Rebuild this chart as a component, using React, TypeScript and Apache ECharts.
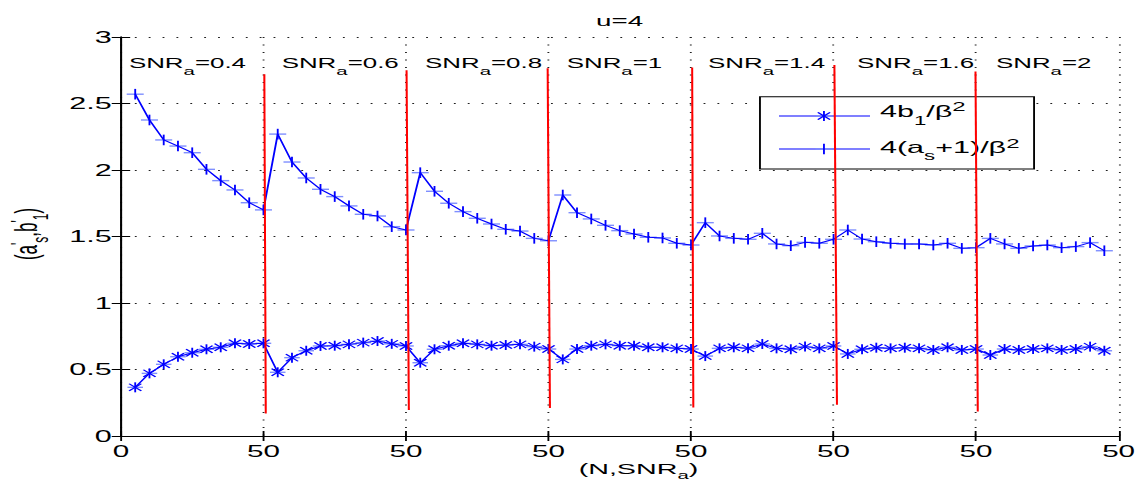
import React, { useEffect, useRef } from 'react';
import * as echarts from 'echarts';

// ---------- data ----------
const snrLabels = ['0.4', '0.6', '0.8', '1', '1.4', '1.6', '2'];
const nValues = [5, 10, 15, 20, 25, 30, 35, 40, 45, 50];
const blockWidth = 50;
const xTickLabels = ['0', '50', '50', '50', '50', '50', '50', '50'];

// 4(a_s+1)/beta^2  (plus markers)
const asPlusOne = [
  [2.57, 2.376, 2.226, 2.18, 2.13, 2.005, 1.92, 1.85, 1.754, 1.7],
  [2.27, 2.06, 1.94, 1.855, 1.8, 1.73, 1.667, 1.654, 1.574, 1.549],
  [1.98, 1.84, 1.75, 1.687, 1.637, 1.594, 1.554, 1.541, 1.486, 1.468],
  [1.812, 1.679, 1.632, 1.584, 1.544, 1.519, 1.494, 1.489, 1.449, 1.436],
  [1.604, 1.504, 1.486, 1.479, 1.524, 1.444, 1.431, 1.456, 1.449, 1.479],
  [1.549, 1.481, 1.461, 1.449, 1.444, 1.444, 1.436, 1.449, 1.411, 1.416],
  [1.486, 1.444, 1.411, 1.429, 1.436, 1.416, 1.424, 1.454, 1.393],
];

// 4 b_1/beta^2  (asterisk markers)
const bOne = [
  [0.366, 0.471, 0.539, 0.596, 0.626, 0.652, 0.667, 0.697, 0.692, 0.697],
  [0.479, 0.589, 0.641, 0.677, 0.679, 0.689, 0.702, 0.714, 0.693, 0.677],
  [0.551, 0.652, 0.679, 0.697, 0.689, 0.679, 0.684, 0.689, 0.672, 0.654],
  [0.576, 0.654, 0.679, 0.689, 0.679, 0.679, 0.667, 0.667, 0.659, 0.654],
  [0.601, 0.659, 0.667, 0.659, 0.692, 0.659, 0.652, 0.672, 0.659, 0.677],
  [0.617, 0.652, 0.664, 0.659, 0.664, 0.659, 0.647, 0.667, 0.647, 0.654],
  [0.609, 0.654, 0.647, 0.654, 0.659, 0.647, 0.654, 0.672, 0.641],
];

// red separators
const redTopX = [50.3, 100.2, 149.7, 200.4, 250.3, 299.8];
const redBottomX = [50.8, 101.0, 150.5, 200.8, 251.2, 300.6];
const redTop = [2.72, 2.75, 2.765, 2.77, 2.79, 2.74];
const redBottom = [0.17, 0.195, 0.21, 0.215, 0.235, 0.185];

// ---------- helpers ----------
const FONT = '"Liberation Sans", Arial, Helvetica, sans-serif';
const STRETCH = 1143 / 618;
const LIGHT = '#7f8fff';
const BLUE = '#0000ff';

const toPoints = (blocks: number[][]) =>
  blocks.flatMap((vals, bi) => vals.map((v, i) => [bi * blockWidth + nValues[i], v]));

function markerLines(kind: string, cx: number, cy: number, z?: number) {
  const L = (x1: number, y1: number, x2: number, y2: number, stroke: string, w: number) => {
    const o: any = { type: 'line', shape: { x1, y1, x2, y2 }, style: { stroke, lineWidth: w } };
    if (z !== undefined) o.z = z;
    return o;
  };
  if (kind === 'plus') {
    return [L(cx - 4.6, cy, cx + 4.6, cy, LIGHT, 1.4), L(cx, cy - 5.3, cx, cy + 5.3, BLUE, 1)];
  }
  return [
    L(cx - 4.2, cy, cx + 4.2, cy, LIGHT, 1.4),
    L(cx, cy - 5, cx, cy + 5, BLUE, 1),
    L(cx - 3.3, cy - 3.6, cx + 3.3, cy + 3.6, BLUE, 1),
    L(cx - 3.3, cy + 3.6, cx + 3.3, cy - 3.6, BLUE, 1),
  ];
}

const markerSeries = (name: string, kind: string, data: number[][]) => ({
  name,
  type: 'custom',
  data,
  encode: { x: 0, y: 1 },
  clip: false,
  z: 3,
  renderItem: (_p: any, api: any) => {
    const c = api.coord([api.value(0), api.value(1)]);
    return { type: 'group', children: markerLines(kind, c[0], c[1]) };
  },
});

const subPad = (d: number) => [d, 0, 0, 0];
const supPad = (u: number) => [0, 0, u, 0];

export default function App() {
  const ref = useRef<HTMLDivElement>(null);

  useEffect(() => {
    if (!ref.current) return;
    const chart = echarts.init(ref.current, null, { renderer: 'svg' });

    const upperPts = toPoints(asPlusOne);
    const lowerPts = toPoints(bOne);
    const redSegs = redTop.map((t, i) => [redTopX[i], t, redBottomX[i], redBottom[i]]);

    const snrX = [69.7, 152.3, 229.8, 306.4, 382.8, 463.4, 538.5];
    const snrTexts = snrLabels.map((s, i) => ({
      type: 'text',
      x: snrX[i],
      y: 63.3,
      z: 10,
      style: {
        text: `{n|SNR}{s|a}{n|=${s}}`,
        align: 'left',
        verticalAlign: 'middle',
        fill: '#000',
        rich: {
          n: { fontSize: 14, fontFamily: FONT, fill: '#000' },
          s: { fontSize: 11, fontFamily: FONT, fill: '#000', padding: subPad(15) },
        },
      },
    }));

    const legendX = 410.9, legendY = 96.7, legendW = 148.2, legendH = 72.3;
    const legendLineX1 = 421.2, legendLineX2 = 470.4, legendMarkX = 445.5;
    const row1 = 116, row2 = 149;

    const option: any = {
      animation: false,
      grid: { left: 65.4, right: 13.2, top: 37, bottom: 45, containLabel: false },
      xAxis: [
        {
          type: 'value',
          min: 0,
          max: 350,
          interval: 50,
          axisLine: { show: true, lineStyle: { color: '#000', width: 1 } },
          axisTick: { show: true, inside: true, length: 5, lineStyle: { color: '#000' } },
          axisLabel: {
            color: '#000',
            fontSize: 16,
            fontFamily: FONT,
            margin: 7,
            formatter: (_v: number, idx: number) => xTickLabels[idx],
          },
          splitLine: { show: true, lineStyle: { color: '#222', type: [1, 6.5], width: 1 } },
        },
        {
          type: 'value',
          position: 'top',
          min: 0,
          max: 350,
          interval: 50,
          axisLine: { show: true, lineStyle: { color: '#000', width: 1 } },
          axisTick: { show: true, inside: true, length: 5, lineStyle: { color: '#000' } },
          axisLabel: { show: false },
          splitLine: { show: false },
        },
      ],
      yAxis: [
        {
          type: 'value',
          min: 0,
          max: 3,
          interval: 0.5,
          axisLine: { show: true, lineStyle: { color: '#000', width: 1 } },
          axisTick: { show: true, inside: true, length: 5, lineStyle: { color: '#000' } },
          axisLabel: { color: '#000', fontSize: 16.5, fontFamily: FONT, margin: 5 },
          splitLine: { show: true, lineStyle: { color: '#222', type: [1, 6.5], width: 1 } },
        },
        {
          type: 'value',
          position: 'right',
          min: 0,
          max: 3,
          interval: 0.5,
          axisLine: { show: true, lineStyle: { color: '#000', width: 1 } },
          axisTick: { show: true, inside: true, length: 5, lineStyle: { color: '#000' } },
          axisLabel: { show: false },
          splitLine: { show: false },
        },
      ],
      series: [
        {
          name: '4(a_s+1)/β²',
          type: 'line',
          data: upperPts,
          showSymbol: false,
          symbol: 'none',
          lineStyle: { color: BLUE, width: 1 },
          z: 3,
        },
        markerSeries('plusMarkers', 'plus', upperPts),
        {
          name: '4b_1/β²',
          type: 'line',
          data: lowerPts,
          showSymbol: false,
          symbol: 'none',
          lineStyle: { color: BLUE, width: 1 },
          z: 3,
        },
        markerSeries('starMarkers', 'star', lowerPts),
        {
          name: 'separators',
          type: 'custom',
          data: redSegs,
          encode: { x: [0, 2], y: [1, 3] },
          clip: false,
          z: 4,
          renderItem: (_p: any, api: any) => {
            const a = api.coord([api.value(0), api.value(1)]);
            const b = api.coord([api.value(2), api.value(3)]);
            return {
              type: 'line',
              shape: { x1: a[0], y1: a[1], x2: b[0], y2: b[1] },
              style: { stroke: '#ff0000', lineWidth: 1.1 },
            };
          },
        },
      ],
      graphic: [
        // title
        {
          type: 'text',
          x: 335,
          y: 20.5,
          z: 10,
          style: { text: 'u=4', fontSize: 15, fontFamily: FONT, fill: '#000', align: 'center', verticalAlign: 'middle' },
        },
        // x axis name
        {
          type: 'text',
          x: 345.2,
          y: 469,
          z: 10,
          style: {
            text: '{n|(N,SNR}{s|a}{n|)}',
            align: 'center',
            verticalAlign: 'middle',
            fill: '#000',
            rich: {
              n: { fontSize: 15.5, fontFamily: FONT, fill: '#000' },
              s: { fontSize: 11, fontFamily: FONT, fill: '#000', padding: subPad(11) },
            },
          },
        },
        // y axis name
        {
          type: 'text',
          x: 14,
          y: 234,
          rotation: Math.PI / 2,
          z: 10,
          style: {
            text: "{n|(a}{p|'}{s|s}{n|,b}{p|'}{s|1}{n|)}",
            align: 'center',
            verticalAlign: 'middle',
            fill: '#000',
            rich: {
              n: { fontSize: 17, fontFamily: FONT, fill: '#000' },
              p: { fontSize: 12, fontFamily: FONT, fill: '#000', padding: supPad(8) },
              s: { fontSize: 12, fontFamily: FONT, fill: '#000', padding: subPad(16) },
            },
          },
        },
        ...snrTexts,
        // legend box
        {
          type: 'rect',
          z: 1,
          shape: { x: legendX, y: legendY, width: legendW, height: legendH },
          style: { fill: '#fff', stroke: '#000', lineWidth: 1 },
        },
        {
          type: 'line',
          z: 1,
          shape: { x1: legendLineX1, y1: row1, x2: legendLineX2, y2: row1 },
          style: { stroke: BLUE, lineWidth: 1 },
        },
        {
          type: 'line',
          z: 1,
          shape: { x1: legendLineX1, y1: row2, x2: legendLineX2, y2: row2 },
          style: { stroke: BLUE, lineWidth: 1 },
        },
        ...markerLines('star', legendMarkX, row1, 1),
        ...markerLines('plus', legendMarkX, row2, 1),
        {
          type: 'text',
          x: 475.8,
          y: 111,
          z: 1,
          style: {
            text: '{n|4b}{s|1}{n|/β}{p|2}',
            align: 'left',
            verticalAlign: 'middle',
            fill: '#000',
            rich: {
              n: { fontSize: 16.5, fontFamily: FONT, fill: '#000' },
              s: { fontSize: 12, fontFamily: FONT, fill: '#000', padding: subPad(19) },
              p: { fontSize: 13, fontFamily: FONT, fill: '#000', padding: supPad(8) },
            },
          },
        },
        {
          type: 'text',
          x: 475.8,
          y: 147.5,
          z: 1,
          style: {
            text: '{n|4(a}{s|s}{n|+1)/β}{p|2}',
            align: 'left',
            verticalAlign: 'middle',
            fill: '#000',
            rich: {
              n: { fontSize: 16.5, fontFamily: FONT, fill: '#000' },
              s: { fontSize: 12, fontFamily: FONT, fill: '#000', padding: subPad(16) },
              p: { fontSize: 13, fontFamily: FONT, fill: '#000', padding: supPad(8) },
            },
          },
        },
      ],
    };

    chart.setOption(option);
    return () => chart.dispose();
  }, []);

  return (
    <div
      ref={ref}
      style={{
        position: 'absolute',
        left: 0,
        top: 0,
        width: 618,
        height: 481,
        transform: `scaleX(${STRETCH})`,
        transformOrigin: '0 0',
        background: '#fff',
      }}
    />
  );
}
